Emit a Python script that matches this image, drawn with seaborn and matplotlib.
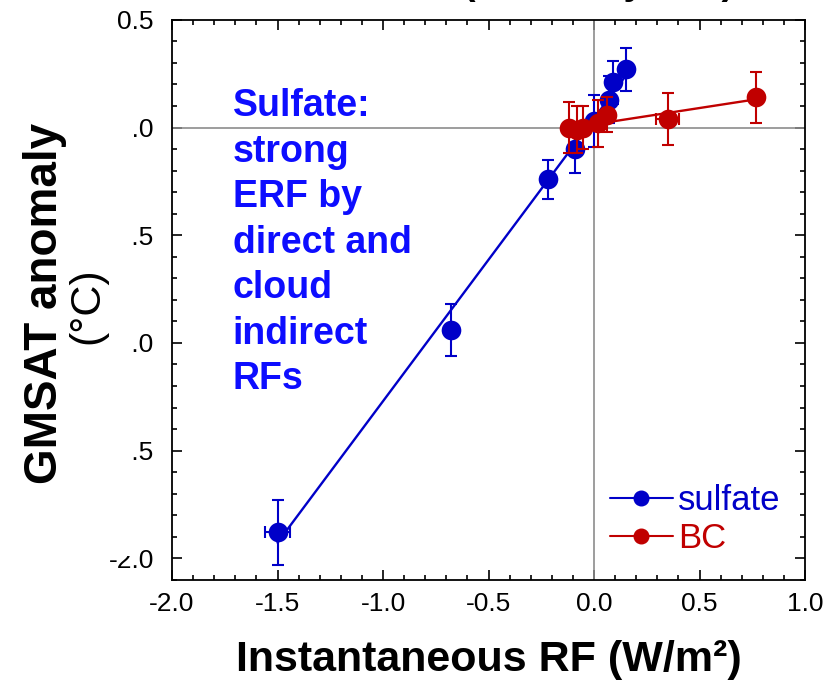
import numpy as np
import matplotlib; matplotlib.use('Agg')
import matplotlib.pyplot as plt
from matplotlib.lines import Line2D
from matplotlib.patches import Rectangle
from matplotlib.ticker import MultipleLocator, FormatStrFormatter
import seaborn as sns

# sulfate runs: instantaneous RF vs GMSAT anomaly
sulf_rf = np.array([-1.50, -0.68, -0.22, -0.09, 0.00, 0.07, 0.09, 0.15])
sulf_dt = np.array([-1.88, -0.94, -0.24, -0.10, 0.03, 0.13, 0.21, 0.27])
sulf_dt_err = np.array([0.15, 0.12, 0.09, 0.11, 0.12, 0.11, 0.10, 0.10])
sulf_rf_err = np.array([0.06, 0, 0, 0, 0, 0, 0, 0])

# black carbon runs
bc_rf = np.array([-0.12, -0.08, -0.05, 0.02, 0.06, 0.35, 0.77])
bc_dt = np.array([0.00, -0.01, 0.00, 0.02, 0.06, 0.04, 0.14])
bc_dt_err = np.array([0.12, 0.11, 0.10, 0.11, 0.08, 0.12, 0.12])
bc_rf_err = np.array([0, 0, 0, 0, 0, 0.055, 0])

series_names = ['sulfate', 'BC']
BLUE = '#0000c8'; RED = '#c00000'

sns.set_style('ticks')
plt.rcParams['font.family'] = ['Liberation Sans', 'DejaVu Sans']
plt.rcParams['axes.unicode_minus'] = False
plt.rcParams['text.color'] = 'black'
plt.rcParams['axes.labelcolor'] = 'black'

fig = plt.figure(figsize=(8.27, 6.83), dpi=100)
ax = fig.add_axes([0.208, 0.151, 0.7654, 0.8199])

ax.axhline(0, color='#8c8c8c', lw=1.2, zorder=1)
ax.axvline(0, color='#8c8c8c', lw=1.2, zorder=1)

for rf, dt, yerr, xerr, c, z in [(sulf_rf, sulf_dt, sulf_dt_err, sulf_rf_err, BLUE, 3),
                                  (bc_rf, bc_dt, bc_dt_err, bc_rf_err, RED, 5)]:
    ax.errorbar(rf, dt, yerr=yerr, fmt='none', ecolor=c, elinewidth=1.5,
                capsize=4.5, capthick=1.5, zorder=z)
    m = xerr > 0
    ax.errorbar(rf[m], dt[m], xerr=xerr[m], fmt='none', ecolor=c, elinewidth=1.5,
                capsize=4.5, capthick=1.5, zorder=z)
    sns.regplot(x=rf, y=dt, ax=ax, ci=None, truncate=True, color=c,
                scatter_kws=dict(s=200, alpha=1, linewidths=0, zorder=z + 1),
                line_kws=dict(lw=1.7, zorder=z))

ax.set_xlim(-2.0, 1.0)
ax.set_ylim(-2.1, 0.5)
ax.xaxis.set_major_locator(MultipleLocator(0.5))
ax.xaxis.set_minor_locator(MultipleLocator(0.1))
ax.yaxis.set_major_locator(MultipleLocator(0.5))
ax.yaxis.set_minor_locator(MultipleLocator(0.1))
ax.xaxis.set_major_formatter(FormatStrFormatter('%.1f'))
ax.yaxis.set_major_formatter(FormatStrFormatter('%.1f'))
ax.tick_params(which='both', direction='in', top=True, right=True, width=1.2, colors='black')
ax.tick_params(which='major', length=7, labelsize=19)
ax.tick_params(axis='x', which='major', pad=9)
ax.tick_params(axis='y', which='major', pad=13)
ax.tick_params(which='minor', length=3.5)
for sp in ax.spines.values():
    sp.set_linewidth(1.3); sp.set_color('black')

ax.set_xlabel('Instantaneous RF (W/m²)', fontsize=31, fontweight='bold', labelpad=17)
ax.set_ylabel('')

ax.text(0.096, 0.878, 'Sulfate:\nstrong\nERF by\ndirect and\ncloud\nindirect\nRFs',
        transform=ax.transAxes, ha='left', va='top', fontsize=27, fontweight='bold',
        color='#0d0dff', linespacing=1.34)

handles = [Line2D([], [], color=BLUE, lw=1.5, marker='o', ms=10.5),
           Line2D([], [], color=RED, lw=1.5, marker='o', ms=10.5)]
ax.legend(handles, series_names, loc='center left', bbox_to_anchor=(0.692, 0.108),
          frameon=False, fontsize=25, handlelength=1.8, handletextpad=0.15,
          labelspacing=0.15, borderpad=0, borderaxespad=0, labelcolor=[BLUE, RED])

# white patch hiding the left of the y tick labels, as in the source figure
fig.patches.append(Rectangle((0, 0.186), 0.1585, 0.668, transform=fig.transFigure,
                             facecolor='white', edgecolor='none', zorder=5))
fig.text(0.054, 0.555, 'GMSAT anomaly', rotation=90, ha='center', va='center',
         fontsize=33, fontweight='bold', zorder=6)
fig.text(0.106, 0.552, '(°C)', rotation=90, ha='center', va='center',
         fontsize=31, zorder=6)

# title cut off at the top edge, only descenders visible
fig.text(463 / 827, 1.0 + 6 / 683, '(last 100 years)', ha='left', va='baseline',
         fontsize=27, fontweight='bold')

fig.savefig('out.png', dpi=100)
